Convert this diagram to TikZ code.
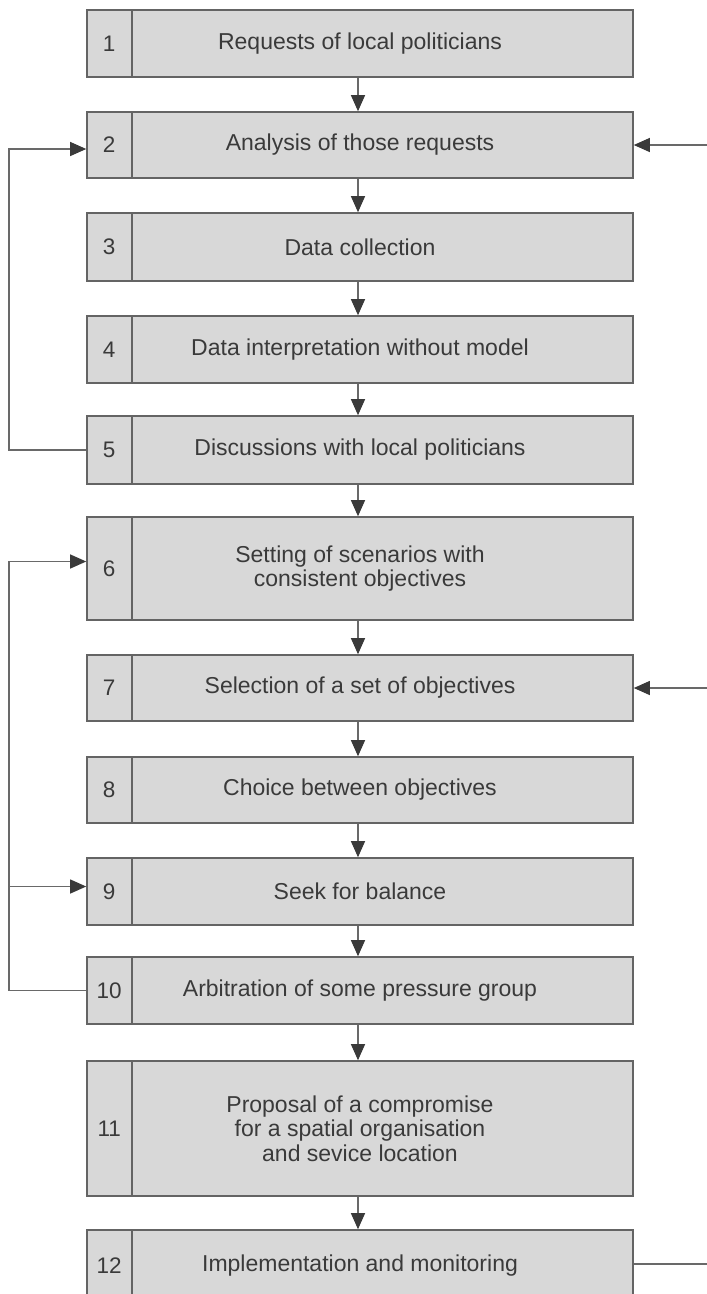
\documentclass[tikz,border=0pt]{standalone}
\usepackage{fontspec}
\setmainfont{Liberation Sans}
\usetikzlibrary{arrows.meta,calc}
\definecolor{boxfill}{RGB}{216,216,216}
\definecolor{boxline}{RGB}{100,100,100}
\definecolor{ink}{RGB}{58,58,58}
\definecolor{wire}{RGB}{105,105,105}

\begin{document}
\begin{tikzpicture}[x=1pt,y=-1pt,
  stepbox/.style={draw=boxline, line width=1.6pt, fill=boxfill,
    minimum width=546pt, inner sep=0pt, text=ink, align=center,
    font=\fontsize{23}{24.5}\selectfont},
  num/.style={text=ink, font=\fontsize{22.5}{25}\selectfont},
  wireline/.style={draw=wire, line width=1.1pt},
  flow/.style={wireline, -{Triangle[length=16pt,width=14pt,color=ink]}}
]
\fill[white] (0,0) rectangle (707,1294);
\useasboundingbox (0,0) rectangle (707,1294);

% process steps: name, centre y, height, text
\foreach \n/\yc/\h/\t in {
  1/43.5/67/{Requests of local politicians},
  2/145/66/{Analysis of those requests},
  3/247/68/{Data collection},
  4/349.5/67/{Data interpretation without model},
  5/450/68/{Discussions with local politicians},
  6/568.5/103/{Setting of scenarios with\\consistent objectives},
  7/688/66/{Selection of a set of objectives},
  8/790/66/{Choice between objectives},
  9/891.5/67/{Seek for balance},
  10/990.5/67/{Arbitration of some pressure group},
  11/1128.5/135/{Proposal of a compromise\\for a spatial organisation\\and sevice location},
  12/1266/72/{Implementation and monitoring}}{
  \node[stepbox, minimum height=\h pt] (s\n) at (360,\yc) {\t};
  \draw[boxline, line width=1.6pt] ([xshift=46pt]s\n.north west) -- ([xshift=46pt]s\n.south west);
  \node[num] (n\n) at ([xshift=23pt]s\n.west) {\n};
}

% main sequence
\foreach \a/\b in {1/2,2/3,3/4,4/5,5/6,6/7,7/8,8/9,9/10,10/11,11/12}
  \draw[flow] ([xshift=-2pt]s\a.south) -- ([xshift=-2pt]s\b.north);

% feedback loops on the left
\coordinate (fbA) at (9,0);
\draw[flow] (s5.west) -- (s5.west -| fbA) -- ([yshift=-4pt]s2.west -| fbA) -- ([yshift=-4pt]s2.west);
\draw[flow] (s10.west) -- (s10.west -| fbA) -- ([yshift=7pt]s6.west -| fbA) -- ([yshift=7pt]s6.west);
\draw[flow] ([yshift=5pt]s9.west -| fbA) -- ([yshift=5pt]s9.west);

% external links on the right
\coordinate (rim) at (707,0);
\draw[flow] (s2.east -| rim) -- (s2.east);
\draw[flow] (s7.east -| rim) -- (s7.east);
\draw[wireline] ([yshift=2pt]s12.east) -- ([yshift=2pt]s12.east -| rim);
\end{tikzpicture}
\end{document}
